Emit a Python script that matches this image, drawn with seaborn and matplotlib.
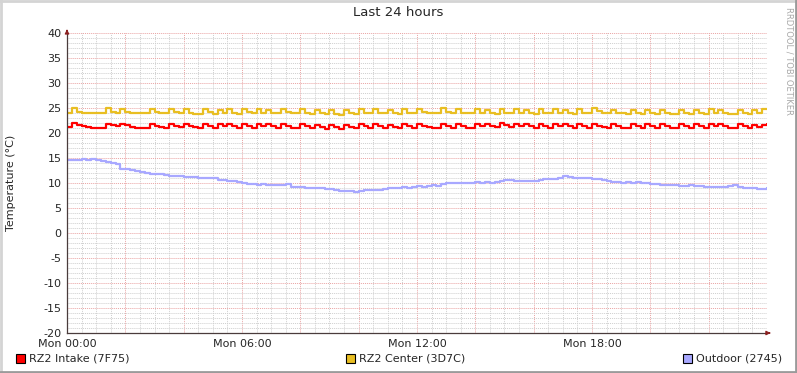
import numpy as np
import pandas as pd
import matplotlib
matplotlib.use('Agg')
import matplotlib.pyplot as plt
from matplotlib.patches import Rectangle
from matplotlib.lines import Line2D
import seaborn as sns

# samples every 10 minutes over the last 24 hours (145 points)
HOURS = np.arange(145) / 6.0

INTAKE = [
    21.3, 22.0, 21.7, 21.4, 21.2, 21.1, 21.0, 21.0, 21.9, 21.6,
    21.4, 21.9, 21.6, 21.3, 21.1, 21.0, 21.0, 21.9, 21.5, 21.2,
    21.1, 21.8, 21.5, 21.2, 21.9, 21.5, 21.2, 21.0, 21.8, 21.4,
    21.1, 21.8, 21.4, 21.8, 21.4, 21.1, 21.8, 21.4, 21.1, 21.8,
    21.4, 21.8, 21.4, 21.1, 21.8, 21.4, 21.1, 21.0, 21.8, 21.4,
    21.0, 21.7, 21.3, 20.9, 21.6, 21.2, 20.9, 21.7, 21.3, 21.0,
    21.8, 21.4, 21.1, 21.8, 21.4, 21.1, 21.7, 21.3, 21.0, 21.8,
    21.4, 21.1, 21.9, 21.5, 21.2, 21.0, 21.0, 21.8, 21.4, 21.1,
    21.8, 21.4, 21.1, 21.0, 21.9, 21.5, 21.9, 21.5, 21.2, 22.0,
    21.6, 21.2, 21.9, 21.5, 21.8, 21.4, 21.1, 21.8, 21.4, 21.1,
    21.8, 21.4, 21.8, 21.4, 21.1, 21.8, 21.4, 21.1, 21.9, 21.5,
    21.2, 21.0, 21.8, 21.4, 21.1, 21.0, 21.8, 21.4, 21.0, 21.8,
    21.4, 21.0, 21.8, 21.4, 21.1, 21.0, 21.8, 21.4, 21.0, 21.8,
    21.4, 21.0, 21.8, 21.4, 21.8, 21.4, 21.1, 21.0, 21.8, 21.4,
    21.0, 21.7, 21.3, 21.7, 21.9,
]

CENTER = [
    24.0, 25.0, 24.3, 24.0, 24.0, 24.0, 24.0, 24.0, 25.0, 24.3,
    24.0, 24.9, 24.2, 24.0, 24.0, 24.0, 24.0, 24.8, 24.2, 24.0,
    24.0, 24.9, 24.2, 24.0, 24.8, 24.1, 23.9, 23.9, 24.9, 24.2,
    23.8, 24.7, 24.0, 24.8, 24.1, 23.9, 24.9, 24.2, 24.0, 24.8,
    24.1, 24.7, 24.1, 24.0, 24.9, 24.2, 24.0, 24.0, 24.8, 24.1,
    23.9, 24.7, 24.0, 23.8, 24.6, 23.9, 23.7, 24.7, 24.0, 23.9,
    24.8, 24.1, 24.0, 24.8, 24.1, 24.0, 24.7, 24.0, 23.9, 24.8,
    24.1, 24.0, 24.9, 24.2, 24.0, 24.0, 24.0, 25.0, 24.2, 24.0,
    24.8, 24.1, 24.0, 24.0, 24.8, 24.1, 24.7, 24.0, 23.9, 24.8,
    24.1, 24.0, 24.8, 24.1, 24.7, 24.0, 23.9, 24.8, 24.1, 24.0,
    24.8, 24.1, 24.7, 24.0, 23.9, 24.8, 24.1, 24.0, 25.0, 24.4,
    24.1, 24.0, 24.7, 24.1, 24.0, 23.9, 24.7, 24.0, 23.9, 24.7,
    24.0, 23.8, 24.6, 24.0, 23.9, 23.9, 24.7, 24.0, 23.9, 24.7,
    24.0, 23.9, 24.8, 24.1, 24.7, 24.0, 23.9, 23.9, 24.7, 24.0,
    23.9, 24.7, 24.0, 24.8, 24.9,
]

OUTDOOR = [
    14.7, 14.6, 14.7, 14.8, 14.7, 14.8, 14.6, 14.4, 14.3, 14.1,
    13.9, 12.9, 12.8, 12.7, 12.5, 12.3, 12.0, 11.9, 11.8, 11.8,
    11.7, 11.5, 11.4, 11.4, 11.3, 11.3, 11.2, 11.1, 11.1, 11.0,
    11.0, 10.7, 10.6, 10.5, 10.4, 10.3, 10.0, 9.8, 9.8, 9.7,
    9.8, 9.7, 9.7, 9.6, 9.6, 9.9, 9.3, 9.2, 9.2, 9.1,
    9.0, 9.0, 9.0, 8.9, 8.8, 8.6, 8.5, 8.5, 8.4, 8.3,
    8.4, 8.6, 8.7, 8.7, 8.6, 8.8, 9.0, 9.0, 9.1, 9.2,
    9.1, 9.2, 9.4, 9.3, 9.5, 9.6, 9.5, 9.9, 10.0, 10.0,
    10.0, 10.1, 10.1, 10.1, 10.2, 10.1, 10.2, 10.1, 10.2, 10.4,
    10.7, 10.6, 10.5, 10.4, 10.4, 10.5, 10.5, 10.6, 10.8, 10.8,
    10.9, 11.0, 11.5, 11.3, 11.1, 11.1, 11.0, 11.0, 10.9, 10.8,
    10.6, 10.5, 10.2, 10.2, 10.1, 10.2, 10.1, 10.2, 10.1, 10.0,
    9.8, 9.8, 9.7, 9.7, 9.6, 9.6, 9.5, 9.5, 9.6, 9.4,
    9.4, 9.3, 9.3, 9.3, 9.2, 9.3, 9.4, 9.7, 9.3, 9.1,
    9.0, 9.0, 8.9, 8.9, 9.0,
]

SERIES = ['RZ2 Intake (7F75)', 'RZ2 Center (3D7C)', 'Outdoor (2745)']
COLORS = ['#FF0000', '#E8BE22', '#A8A8FF']
X_TICK_HOURS = [0, 6, 12, 18]
X_TICK_LABELS = ['Mon 00:00', 'Mon 06:00', 'Mon 12:00', 'Mon 18:00']

df = pd.DataFrame({'hours': HOURS, SERIES[0]: INTAKE, SERIES[1]: CENTER, SERIES[2]: OUTDOOR})

sns.set_style("white")
plt.rcParams['font.family'] = ['DejaVu Sans']
plt.rcParams['axes.unicode_minus'] = False

W, H = 797, 373
fig = plt.figure(figsize=(W / 100, H / 100), dpi=100)
fig.patch.set_facecolor('white')
ax = fig.add_axes([67 / W, 40 / H, 700 / W, 300 / H])
ax.set_facecolor('white')

for name, col in zip(SERIES, COLORS):
    sns.lineplot(data=df, x='hours', y=name, ax=ax, color=col, lw=1.6,
                 drawstyle='steps-post', legend=False)

ax.set_xlim(0, 24)
ax.set_ylim(-20, 40)

# grid: minor every 1 degree / 30 min, major every 5 degrees / 2 h
ax.set_yticks(np.arange(-20, 41, 5))
ax.set_yticks(np.arange(-20, 41, 1), minor=True)
ax.set_xticks(np.arange(0, 25, 2))
ax.set_xticks(np.arange(0, 24.01, 0.5), minor=True)
ax.set_xticklabels([X_TICK_LABELS[X_TICK_HOURS.index(h)] if h in X_TICK_HOURS else ''
                    for h in range(0, 25, 2)])
ax.grid(which='minor', color='#cfcfcf', linestyle=(0, (1, 1)), lw=0.7)
ax.grid(which='major', color='#eaa4a4', linestyle=(0, (1, 1)), lw=0.7)
ax.set_axisbelow(True)
ax.tick_params(which='major', length=2, width=0.7, color='#c04040', labelsize=8, pad=2)
ax.tick_params(which='minor', length=0)
ax.set_xlabel('')
ax.set_ylabel('')

for side in ['top', 'right']:
    ax.spines[side].set_visible(False)
for side in ['left', 'bottom']:
    ax.spines[side].set_color('#4a3c3c')
    ax.spines[side].set_linewidth(0.9)

# axis arrows
ax.annotate('', xy=(24.22, -20), xytext=(23.99, -20), annotation_clip=False,
            arrowprops=dict(arrowstyle='-|>', color='#8b2020', lw=0.9, mutation_scale=6))
ax.annotate('', xy=(0, 41.3), xytext=(0, 39.9), annotation_clip=False,
            arrowprops=dict(arrowstyle='-|>', color='#8b2020', lw=0.9, mutation_scale=6))

fig.text(0.5, 1 - 13 / H, 'Last 24 hours', ha='center', va='center', fontsize=9.5)
fig.text(11 / W, 1 - 183 / H, 'Temperature (°C)', rotation=90, ha='center', va='center', fontsize=8)
fig.text(789 / W, 1 - 7 / H, 'RRDTOOL / TOBI OETIKER', rotation=270, ha='center', va='top',
         fontsize=6, color='#a8a8a8')

# legend row
legend_x = [16, 346, 683]
for lx, name, col in zip(legend_x, SERIES, COLORS):
    fig.patches.append(Rectangle((lx / W, (H - 363) / H), 9 / W, 9 / H, transform=fig.transFigure,
                                 facecolor=col, edgecolor='black', lw=0.8))
    fig.text((lx + 13) / W, 1 - 358.5 / H, name, ha='left', va='center', fontsize=8)

# frame around the canvas
fig.lines.append(Line2D([0, 1], [1 - 1 / H, 1 - 1 / H], transform=fig.transFigure, color='#d4d4d4', lw=2))
fig.lines.append(Line2D([1 / W, 1 / W], [0, 1], transform=fig.transFigure, color='#d4d4d4', lw=2))
fig.lines.append(Line2D([0, 1], [1 / H, 1 / H], transform=fig.transFigure, color='#9a9a9a', lw=2))
fig.lines.append(Line2D([1 - 1 / W, 1 - 1 / W], [0, 1], transform=fig.transFigure, color='#9a9a9a', lw=2))

fig.savefig('out.png', dpi=100)
